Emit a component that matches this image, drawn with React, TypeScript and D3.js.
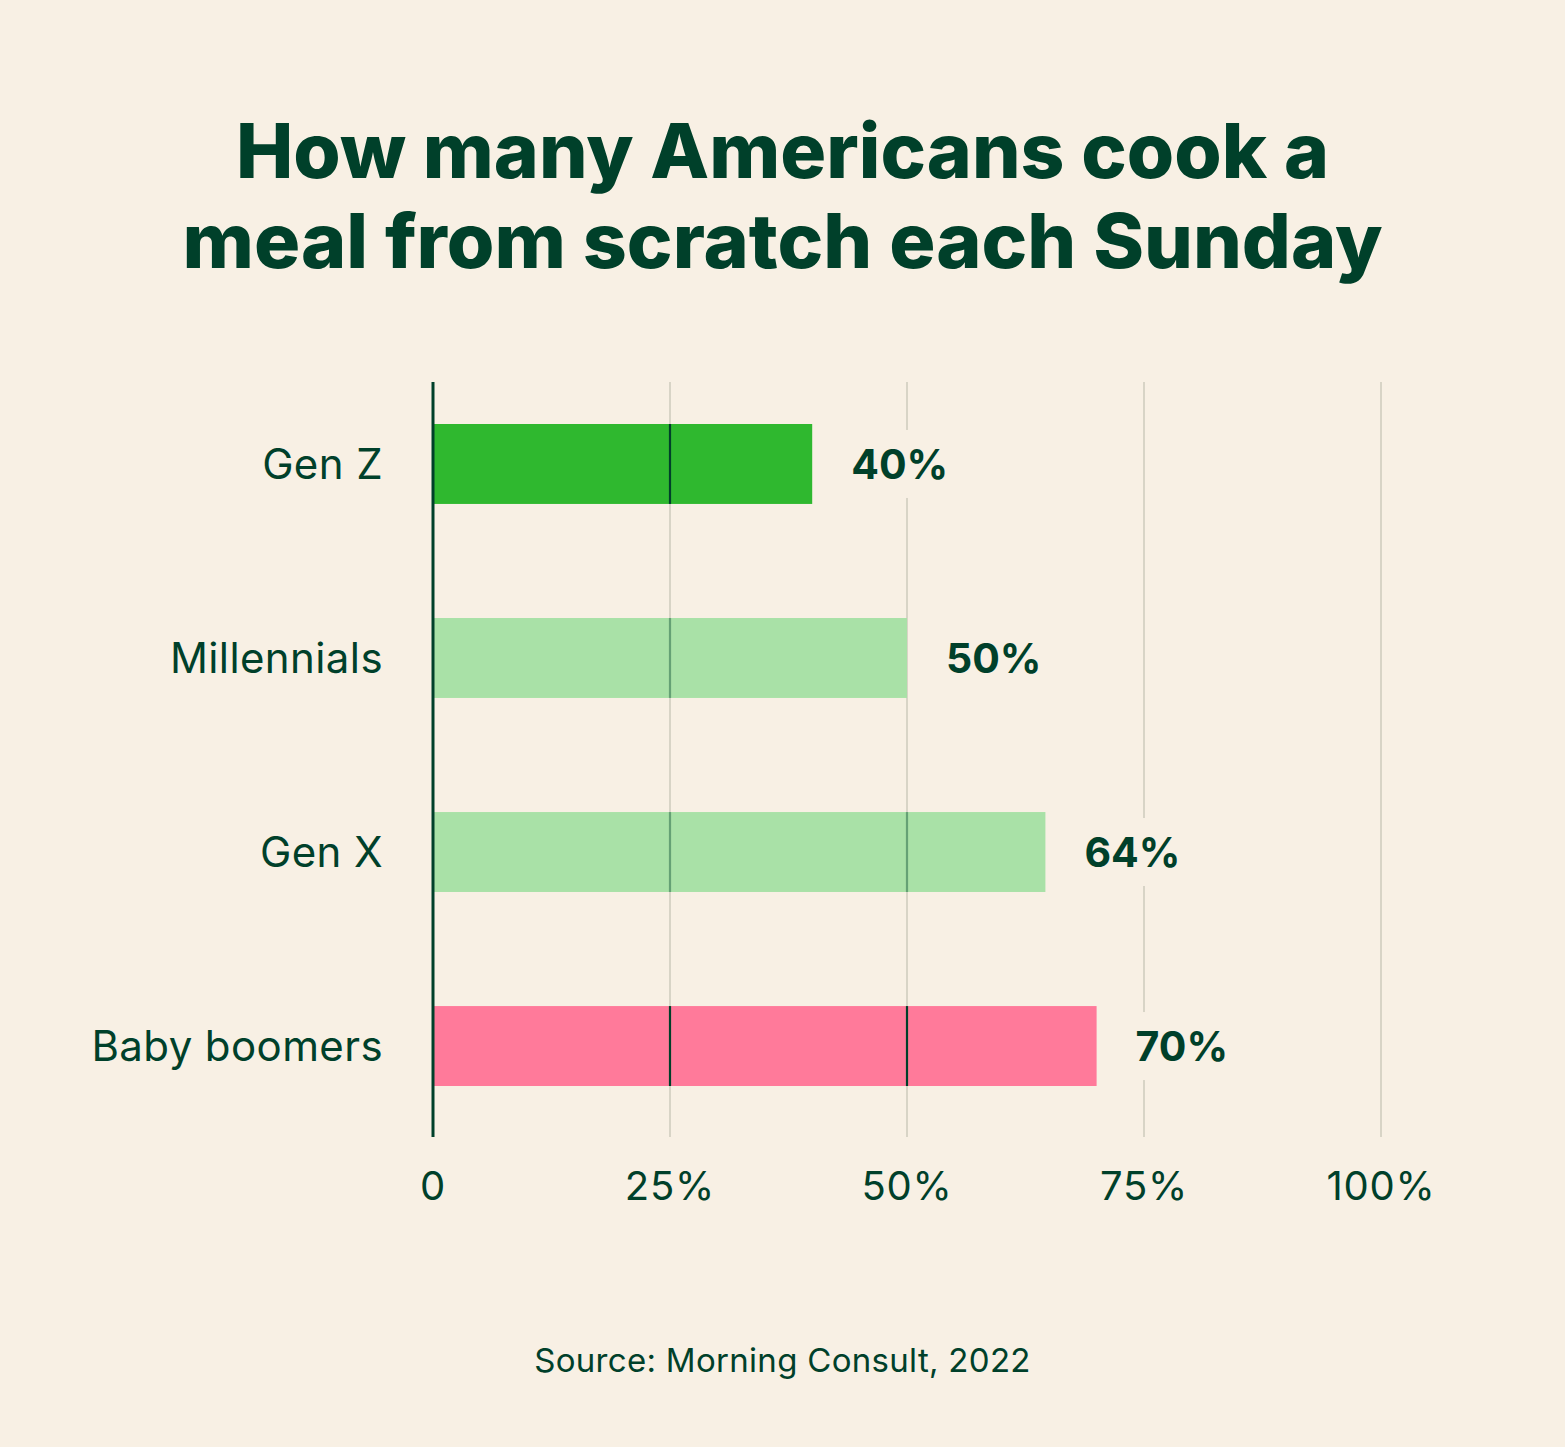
import React from "react";
import * as d3 from "d3";

const categories = ["Gen Z", "Millennials", "Gen X", "Baby boomers"];
const values = [40, 50, 64.6, 70];
const valueLabels = ["40%", "50%", "64%", "70%"];
const barColors = ["#2FB82F", "#A9E1A7", "#A9E1A7", "#FF7A9A"];
const overlayOpacity = [1, 0.4, 0.4, 1];
const ticks = [0, 25, 50, 75, 100];
const tickLabels = ["0", "25%", "50%", "75%", "100%"];
const titleLines = ["How many Americans cook a", "meal from scratch each Sunday"];
const source = "Source: Morning Consult, 2022";

const W = 1565;
const H = 1447;
const BG = "#F8F0E4";
const DARK = "#00402A";
const GRID = "#D8D4C6";
const FONT = "Inter, 'Noto Sans', sans-serif";

const App = () => {
  const x = d3.scaleLinear().domain([0, 100]).range([433, 1381]);
  const y = d3
    .scaleBand<string>()
    .domain(categories)
    .range([382, 1128])
    .paddingInner(0.588)
    .paddingOuter(0.2165);
  const gridTop = 382;
  const gridBottom = 1137;
  const bh = y.bandwidth();

  return (
    <svg
      width={W}
      height={H}
      style={{ position: "absolute", left: 0, top: 0, display: "block" }}
    >
      <rect width={W} height={H} fill={BG} />

      {/* title */}
      {titleLines.map((t, i) => (
        <text
          key={t}
          x={W / 2}
          y={178 + i * 90}
          textAnchor="middle"
          fontFamily={FONT}
          fontWeight={800}
          fontSize={76}
          fill={DARK}
          textLength={i === 0 ? 1093 : 1200}
          lengthAdjust="spacingAndGlyphs"
        >
          {t}
        </text>
      ))}

      {/* background grid */}
      {ticks.slice(1).map((t) => (
        <line
          key={t}
          x1={x(t)}
          x2={x(t)}
          y1={gridTop}
          y2={gridBottom}
          stroke={GRID}
          strokeWidth={2}
        />
      ))}

      {/* bars */}
      {categories.map((c, i) => (
        <g key={c}>
          <rect
            x={x(0)}
            y={y(c)}
            width={x(values[i]) - x(0)}
            height={bh}
            fill={barColors[i]}
          />
          {ticks
            .slice(1)
            .filter((t) => t < values[i])
            .map((t) => (
              <line
                key={t}
                x1={x(t)}
                x2={x(t)}
                y1={y(c)}
                y2={(y(c) as number) + bh}
                stroke={DARK}
                strokeOpacity={overlayOpacity[i]}
                strokeWidth={2.2}
              />
            ))}
        </g>
      ))}

      {/* value labels */}
      {categories.map((c, i) => {
        const cy = (y(c) as number) + bh / 2;
        const lx = x(values[i]) + 39;
        return (
          <g key={c}>
            <rect x={lx - 6} y={cy - 34} width={104} height={68} fill={BG} />
            <text
              x={lx}
              y={cy}
              dy="0.36em"
              fontFamily={FONT}
              fontWeight={700}
              fontSize={41}
              fill={DARK}
            >
              {valueLabels[i]}
            </text>
          </g>
        );
      })}

      {/* category labels */}
      {categories.map((c) => (
        <text
          key={c}
          x={383}
          y={(y(c) as number) + bh / 2}
          dy="0.36em"
          textAnchor="end"
          fontFamily={FONT}
          fontSize={42}
          letterSpacing={0.4}
          fill={DARK}
        >
          {c}
        </text>
      ))}

      {/* zero axis */}
      <line
        x1={x(0)}
        x2={x(0)}
        y1={gridTop}
        y2={gridBottom}
        stroke={DARK}
        strokeWidth={3}
      />

      {/* tick labels */}
      {ticks.map((t, i) => (
        <text
          key={t}
          x={x(t)}
          y={1200}
          textAnchor="middle"
          fontFamily={FONT}
          fontSize={40}
          letterSpacing={0.8}
          fill={DARK}
        >
          {tickLabels[i]}
        </text>
      ))}

      <text
        x={W / 2}
        y={1372}
        textAnchor="middle"
        fontFamily={FONT}
        fontSize={33}
        letterSpacing={0.3}
        fill={DARK}
      >
        {source}
      </text>
    </svg>
  );
};

export default App;
